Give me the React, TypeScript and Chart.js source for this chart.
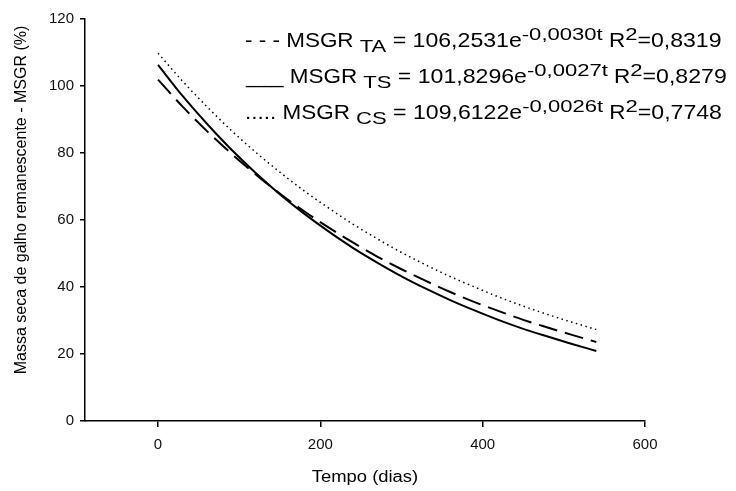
import React, { useEffect, useRef } from "react";
import { Chart, registerables } from "chart.js";

Chart.register(...registerables);

// ---- data ----
const DAYS = [0, 30, 60, 90, 120, 150, 180, 210, 240, 270, 300, 330, 360, 390, 420, 450, 480, 510, 540];
const DASHED_VALUES = [101.9, 93.9, 86.6, 79.9, 73.7, 67.9, 62.6, 57.8, 53.3, 49.1, 45.3, 41.8, 38.5, 35.5, 32.8, 30.2, 27.9, 25.7, 23.6];
const SOLID_VALUES = [106.3, 97.1, 88.8, 81.1, 74.1, 67.7, 61.9, 56.6, 51.7, 47.3, 43.2, 39.5, 36.1, 33.0, 30.1, 27.5, 25.2, 23.0, 20.9];
const DOTTED_VALUES = [109.8, 101.5, 93.9, 86.8, 80.3, 74.3, 68.7, 63.6, 58.8, 54.4, 50.3, 46.6, 43.1, 40.0, 37.0, 34.3, 31.8, 29.5, 27.3];
const X_TICKS = [0, 200, 400, 600];
const Y_TICKS = [0, 20, 40, 60, 80, 100, 120];
const X_TITLE = "Tempo (dias)";
const Y_TITLE = "Massa seca de galho remanescente - MSGR (%)";
const LEGEND_LINES = [
  { lead: "- - - MSGR", sub: " TA", coef: " = 106,2531e", exp: "-0,0030t", r2: "=0,8319" },
  { lead: "___ MSGR", sub: " TS", coef: " = 101,8296e", exp: "-0,0027t", r2: "=0,8279" },
  { lead: "..... MSGR", sub: " CS", coef: " = 109,6122e", exp: "-0,0026t", r2: "=0,7748" },
];

const FONT = '"Liberation Sans", Arial, sans-serif';

type Seg = { t: string; dy: number; size: number; sx: number; sy: number };

function drawRich(ctx: CanvasRenderingContext2D, x: number, y: number, segs: Seg[]) {
  for (const s of segs) {
    ctx.save();
    ctx.font = `${s.size}px ${FONT}`;
    const w = ctx.measureText(s.t).width * s.sx;
    ctx.translate(x, y + s.dy);
    ctx.scale(s.sx, s.sy);
    ctx.fillText(s.t, 0, 0);
    ctx.restore();
    x += w;
  }
}

const textPlugin = {
  id: "textPlugin",
  afterDraw(chart: any) {
    const ctx: CanvasRenderingContext2D = chart.ctx;
    ctx.save();
    ctx.fillStyle = "#000";
    ctx.textBaseline = "alphabetic";
    ctx.textAlign = "left";
    const baselines = [47, 83, 119];
    const starts = [245, 246, 245];
    LEGEND_LINES.forEach((l, i) => {
      const main = (t: string, sx = 1.07): Seg => ({ t, dy: 0, size: 21, sx, sy: 1 });
      const small = (t: string, dy: number): Seg => ({ t, dy, size: 21, sx: 1.05, sy: 0.76 });
      drawRich(ctx, starts[i], baselines[i], [
        main(l.lead),
        small(l.sub, 5),
        main(l.coef, 1.1),
        small(l.exp, -7.5),
        main(" R", 1.07),
        small("2", -7.5),
        main(l.r2, 1.1),
      ]);
    });
    // axis titles
    ctx.textAlign = "center";
    ctx.textBaseline = "middle";
    ctx.font = `16px ${FONT}`;
    ctx.save();
    ctx.translate(22, 200);
    ctx.rotate(-Math.PI / 2);
    ctx.fillText(Y_TITLE, 0, 0);
    ctx.restore();
    ctx.save();
    ctx.translate(365, 478);
    ctx.scale(1.15, 1);
    ctx.fillText(X_TITLE, 0, 0);
    ctx.restore();
    ctx.restore();
  },
};

export default function App() {
  const ref = useRef<HTMLCanvasElement | null>(null);
  useEffect(() => {
    if (!ref.current) return;
    const pts = (vals: number[]) => DAYS.map((d, i) => ({ x: d, y: vals[i] }));
    const common = {
      pointRadius: 0,
      fill: false,
      borderColor: "#000",
      cubicInterpolationMode: "monotone" as const,
    };
    const chart = new Chart(ref.current, {
      type: "line",
      data: {
        datasets: [
          { ...common, label: "TA", data: pts(DASHED_VALUES), borderWidth: 2, borderDash: [19, 8] },
          { ...common, label: "TS", data: pts(SOLID_VALUES), borderWidth: 2 },
          { ...common, label: "CS", data: pts(DOTTED_VALUES), borderWidth: 1.5, borderDash: [1.5, 3.5] },
        ],
      },
      options: {
        animation: false,
        responsive: false,
        devicePixelRatio: 1,
        layout: { padding: { left: 0, right: 91, top: 19, bottom: 0 } },
        plugins: { legend: { display: false }, tooltip: { enabled: false } },
        scales: {
          x: {
            type: "linear",
            min: -90,
            max: 600,
            afterBuildTicks: (s: any) => {
              s.ticks = X_TICKS.map((v) => ({ value: v }));
            },
            afterFit: (s: any) => {
              s.height = 70;
            },
            grid: { drawOnChartArea: false, drawTicks: true, tickLength: 6, color: "#000", lineWidth: 1.5 },
            border: { display: true, color: "#000", width: 1.5 },
            ticks: { color: "#111", font: { family: FONT, size: 15 }, padding: 9, maxRotation: 0 },
          },
          y: {
            type: "linear",
            min: 0,
            max: 120,
            afterBuildTicks: (s: any) => {
              s.ticks = Y_TICKS.map((v) => ({ value: v }));
            },
            afterFit: (s: any) => {
              s.width = 85;
            },
            grid: { drawOnChartArea: false, drawTicks: true, tickLength: 5, color: "#000", lineWidth: 1.5 },
            border: { display: true, color: "#000", width: 1.5 },
            ticks: { color: "#111", font: { family: FONT, size: 15 }, padding: 6 },
          },
        },
      },
      plugins: [textPlugin],
    });
    return () => chart.destroy();
  }, []);
  return (
    <div style={{ position: "absolute", left: 0, top: 0, width: 736, height: 491, background: "#fff" }}>
      <canvas ref={ref} width={736} height={491} style={{ width: 736, height: 491, display: "block" }} />
    </div>
  );
}
